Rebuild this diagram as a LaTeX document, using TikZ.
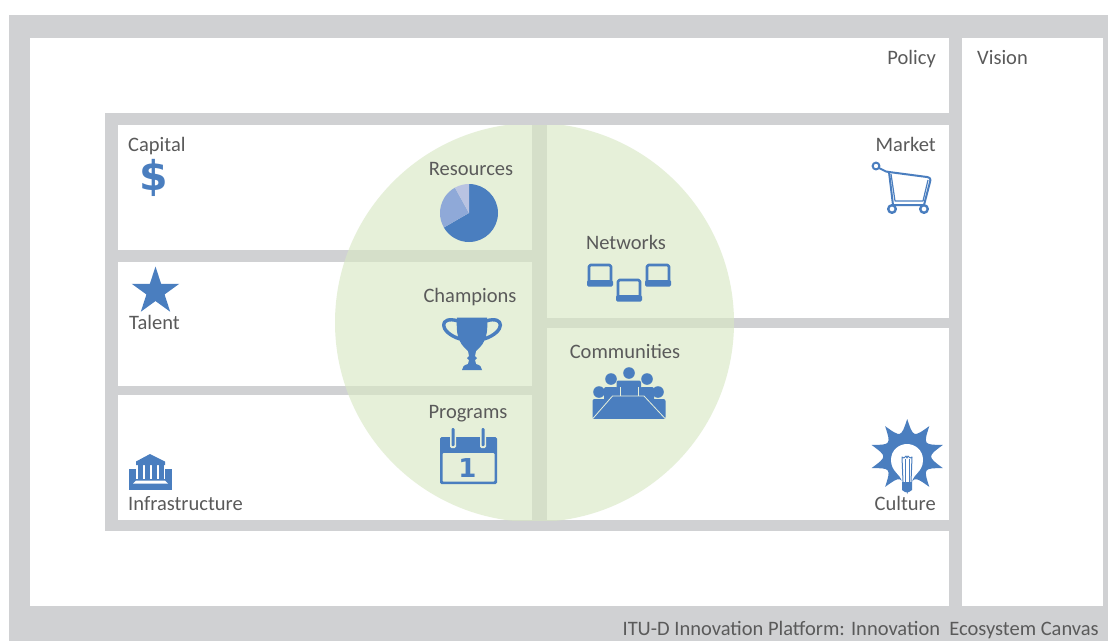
\documentclass[tikz,border=0pt]{standalone}
\usepackage{fontspec}
\setmainfont{Carlito}
\newfontfamily\iconfont{DejaVu Sans}
\usetikzlibrary{shapes.geometric}
\definecolor{bandgrey}{HTML}{D0D1D3}
\definecolor{iconblue}{HTML}{4A7EBF}
\definecolor{pielight}{HTML}{8FA9D8}
\definecolor{piepale}{HTML}{B9C3E2}
\definecolor{circlegreen}{RGB}{216,232,196}
\definecolor{tablegreen}{HTML}{E6EFD9}
\definecolor{textgrey}{HTML}{5A5A5A}
\tikzstyle{lbl}=[text=textgrey,inner sep=0pt,font=\fontsize{20.5}{22}\selectfont]
\tikzstyle{cell}=[fill=white]
\tikzstyle{icon}=[fill=iconblue,draw=none]
\tikzstyle{iconline}=[draw=iconblue,line width=2pt,line join=round]

\begin{document}
\begin{tikzpicture}[x=1pt,y=-1pt]
\useasboundingbox (0,0) rectangle (1108,641);
\fill[bandgrey] (9,15) rectangle (1108,641);

% outer boxes
\fill[cell] (30,38) rectangle (949,606);
\fill[cell] (962,38) rectangle (1103,606);

% inner frame
\fill[bandgrey] (105,113) rectangle (949,531);
\fill[cell] (118,125) rectangle (532,250);
\fill[cell] (118,262) rectangle (532,386);
\fill[cell] (118,395) rectangle (532,520);
\fill[cell] (547,125) rectangle (949,318);
\fill[cell] (547,328) rectangle (949,520);

% circle
\begin{scope}
\clip (105,125) rectangle (949,520);
\fill[circlegreen,fill opacity=.64] (534.5,322.5) circle (199.5);
\end{scope}

\node (policy) at (936,64) [lbl,anchor=base east] {Policy};
\node (vision) at (977,64) [lbl,anchor=base west] {Vision};
\node (capital) at (128,151) [lbl,anchor=base west] {Capital};
\node (talent) at (129,329) [lbl,anchor=base west] {Talent};
\node (infra) at (128,510) [lbl,anchor=base west] {Infrastructure};
\node (market) at (936,151) [lbl,anchor=base east] {Market};
\node (culture) at (936,510) [lbl,anchor=base east] {Culture};
\node (resources) at (471,175) [lbl,anchor=base] {Resources};
\node (networks) at (626,249) [lbl,anchor=base] {Networks};
\node (champions) at (470,302) [lbl,anchor=base] {Champions};
\node (communities) at (625,358) [lbl,anchor=base] {Communities};
\node (programs) at (468,418) [lbl,anchor=base] {Programs};
\node (canvas) at (1099,635) [lbl,anchor=base east] {ITU-D Innovation Platform: Innovation\ \ Ecosystem Canvas};

% capital, talent
\node (dollar) at (153.5,178) [inner sep=0pt,text=iconblue,font=\iconfont\bfseries\fontsize{41}{41}\selectfont] {\$};
\node (star) at (155.5,291.5) [star,star points=5,star point ratio=2.618,icon,inner sep=0pt,minimum size=50pt] {};

% pie
\begin{scope}[shift={(469,213)},yscale=-1]
\fill[iconblue] (0,0) -- (90:29) arc (90:-150:29) -- cycle;
\fill[pielight] (0,0) -- (210:29) arc (210:119:29) -- cycle;
\fill[piepale] (0,0) -- (119:29) arc (119:90:29) -- cycle;
\end{scope}

% laptops
\foreach \lx/\ly in {588/264,617/279,646/264} {
\begin{scope}[shift={(\lx,\ly)}]
\draw[iconline,line width=2.6pt,rounded corners=1.5pt] (1,17) -- (1,1) -- (23,1) -- (23,17);
\fill[iconblue,rounded corners=1.5pt] (-1,16) rectangle (25,22.5);
\end{scope}
}

% trophy
\fill[icon] (457,317.5) -- (487,317.5) .. controls (488,332) and (487,342) .. (476,351)
 -- (475,356) -- (477,358) -- (475,360) -- (476,364) .. controls (480,365) and (482,367) .. (482,370)
 -- (462,370) .. controls (462,367) and (464,365) .. (468,364) -- (469,360) -- (467,358) -- (469,356) -- (468,351)
 .. controls (457,342) and (456,332) .. (457,317.5) -- cycle;
\draw[iconline,line width=3.4pt] (458,321) .. controls (439,315) and (438,332) .. (460,339);
\draw[iconline,line width=3.4pt] (486,321) .. controls (505,315) and (506,332) .. (484,339);

% calendar
\fill[icon,rounded corners=1.5pt] (440,437) rectangle (497,484);
\fill[tablegreen,rounded corners=1pt] (442.5,453) rectangle (494.5,481.5);
\foreach \rx in {453,483} {
\fill[tablegreen,rounded corners=1.5pt] (\rx-3,432) rectangle (\rx+3,448);
\fill[iconblue,rounded corners=1pt] (\rx-1.5,428) rectangle (\rx+1.5,446);
}
\node (one) at (467.5,468) [inner sep=0pt,text=iconblue,font=\iconfont\bfseries\fontsize{26}{26}\selectfont] {1};

% meeting
\foreach \hx/\hy in {629/373,611/379,647/379,599/392,658/392} {
\fill[iconblue] (\hx,\hy) circle (5.8);
}
\fill[icon,rounded corners=2pt] (616.5,380.5) rectangle (641,397);
\fill[icon,rounded corners=2pt] (604,387) rectangle (618,402);
\fill[icon,rounded corners=2pt] (640,387) rectangle (654,402);
\fill[icon,rounded corners=2pt] (592.5,399) -- (607,399) -- (607,419) -- (592.5,419) -- cycle;
\fill[icon,rounded corners=2pt] (650,399) -- (665.5,399) -- (665.5,419) -- (650,419) -- cycle;
\draw[tablegreen,line width=.8pt] (620,387) -- (620,396) (638,387) -- (638,396);
\fill[icon,draw=tablegreen,line width=.8pt,line join=round] (612.5,396) -- (644,396) -- (666,419.5) -- (592,419.5) -- cycle;

% infrastructure
\fill[icon] (129,468.5) rectangle (172,489.5);
\fill[white] (136,461) rectangle (165,483);
\fill[icon] (150,454) -- (165,461.5) -- (165,465) -- (136,465) -- (136,461.5) -- cycle;
\foreach \cx/\cw in {138/4.5,145/5,152/5,159/4.5} {
\fill[iconblue] (\cx,465) rectangle (\cx+\cw,480);
}
\fill[iconblue] (136,478.5) rectangle (165,480.5);
\fill[white] (136,480.5) -- (165,480.5) -- (168,483.5) -- (133,483.5) -- cycle;

% cart
\draw[iconline] (876,166) circle (3.4);
\draw[iconline] (879,168) -- (886,171.5) -- (889,172) -- (927,177) .. controls (930,177.5) and (931,179) .. (930,182) -- (924,205) -- (893,205) -- (889,172);
\draw[iconline,line width=1.2pt] (891,174) -- (895,201) -- (923,201) -- (928,180);
\draw[iconline,line width=2.4pt,fill=white] (892,209) circle (3.8);
\draw[iconline,line width=2.4pt,fill=white] (924,209) circle (3.8);

% culture
\begin{scope}[shift={(907.2,456.5)},yscale=-1]
\fill[iconblue] (90:37.5) \foreach \sa in {90,54,18,-18,-54,-90,-126,-162,-198,-234} { .. controls (\sa-18:20) .. (\sa-36:37.5) } -- cycle;
\end{scope}
\fill[white] (902,482) .. controls (901,474) and (891,472) .. (891,460) .. controls (891,450) and (899,444) .. (907,444)
 .. controls (915,444) and (923,450) .. (923,460) .. controls (923,472) and (913,474) .. (912,482) -- cycle;
\draw[iconblue,line width=1pt,line join=round] (903,482) -- (902,457) -- (904,458) -- (906,456) -- (907,458) -- (908,456) -- (910,458) -- (912,457) -- (911,482);
\draw[iconblue,line width=1pt] (905,482) -- (905,459) (909,482) -- (909,459);
\fill[icon] (902,482) rectangle (912,490) -- (909,492) -- (905,492) -- (902,490);

\end{tikzpicture}
\end{document}
